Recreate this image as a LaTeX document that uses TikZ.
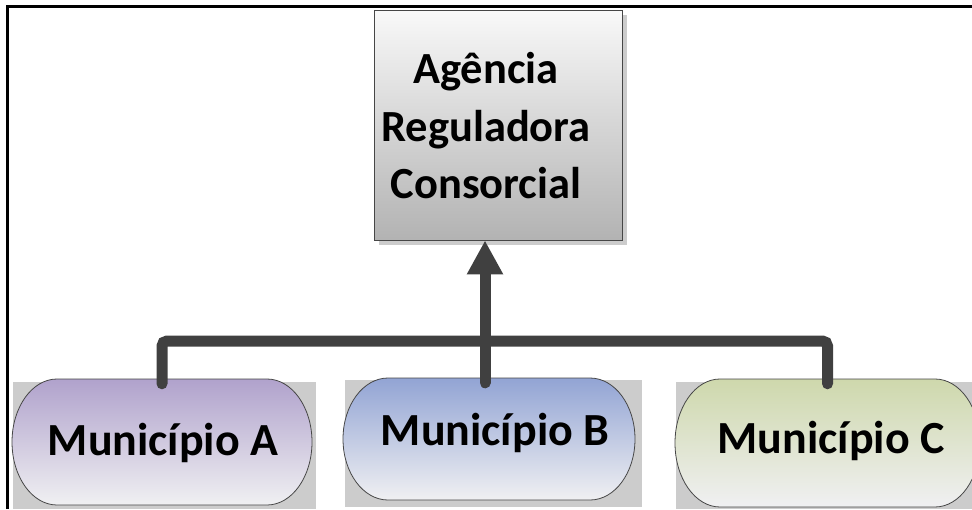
\documentclass[tikz,border=0pt]{standalone}
\usepackage{fontspec}
\setmainfont{Carlito}
\usetikzlibrary{arrows.meta}
\definecolor{connc}{RGB}{64,64,64}
\definecolor{shadowc}{RGB}{204,204,204}
\definecolor{purpletop}{RGB}{176,162,204}
\definecolor{bluetop}{RGB}{146,164,212}
\definecolor{greentop}{RGB}{206,216,172}
\definecolor{paleend}{RGB}{240,240,242}
\definecolor{outlinec}{RGB}{70,70,70}
\tikzset{
  connector/.style={draw=connc, line width=11pt, line cap=round, rounded corners=5pt},
  holder/.style={inner sep=0pt, minimum width=#1},
  munlabel/.style={anchor=base, inner sep=0pt, font=\fontsize{46}{50}\selectfont\bfseries},
  shadowbox/.style={fill=shadowc},
  outlined/.style={draw=outlinec, line width=0.8pt}
}
\begin{document}
\begin{tikzpicture}[x=1pt,y=1pt]
\useasboundingbox (0,0) rectangle (972,-509);
% frame
\draw[line width=2.2pt] (7.5,-509) -- (7.5,-6.5) -- (972,-6.5);
% top box
\fill[shadowbox] (379,-15) rectangle (627,-245);
\node[outlined, top color=gray!5, bottom color=gray!60, minimum width=248pt, minimum height=230pt, inner sep=0pt] (R) at (498,-125) {};
\node[align=center, inner sep=0pt, font=\fontsize{44.5}{57.5}\selectfont\bfseries] (Rt) at (486,-126) {Agência\\Reguladora\\Consorcial};
% municipality shadows
\fill[shadowbox] (13,-382) rectangle (316,-509);
\fill[shadowbox] (345,-380) rectangle (642,-507);
\fill[shadowbox] (676,-382) rectangle (985,-509);
% municipality shapes
\shade[outlined, top color=purpletop, bottom color=paleend]
  (57,-379) -- (267,-379) arc[start angle=90, end angle=-90, x radius=45pt, y radius=63pt]
  -- (57,-505) arc[start angle=270, end angle=90, x radius=45pt, y radius=63pt] -- cycle;
\shade[outlined, top color=bluetop, bottom color=paleend]
  (388,-378) -- (590,-378) arc[start angle=90, end angle=-90, x radius=45pt, y radius=61pt]
  -- (388,-500) arc[start angle=270, end angle=90, x radius=45pt, y radius=61pt] -- cycle;
\shade[outlined, top color=greentop, bottom color=paleend]
  (720,-379) -- (935,-379) arc[start angle=90, end angle=-90, x radius=45pt, y radius=64pt]
  -- (720,-507) arc[start angle=270, end angle=90, x radius=45pt, y radius=64pt] -- cycle;
% named holders for the municipality boxes
\node[holder=300pt, minimum height=126pt] (A) at (162,-442) {};
\node[holder=292pt, minimum height=122pt] (B) at (489,-439) {};
\node[holder=305pt, minimum height=128pt] (C) at (827.5,-443) {};
% connectors
\coordinate (bus) at (485,-341);
\draw[connector] ([yshift=-5pt]A.north) |- (bus) -| ([yshift=-5pt]C.north);
\draw[connector, -{Triangle[length=34pt, width=34pt]}] ([yshift=-5pt]B.north -| bus) -- (R.south -| bus);
% labels
\node[munlabel] (At) at (163,-455) {Município A};
\node[munlabel] (Bt) at (495,-445) {Município B};
\node[munlabel] (Ct) at (831,-453) {Município C};
\end{tikzpicture}
\end{document}
